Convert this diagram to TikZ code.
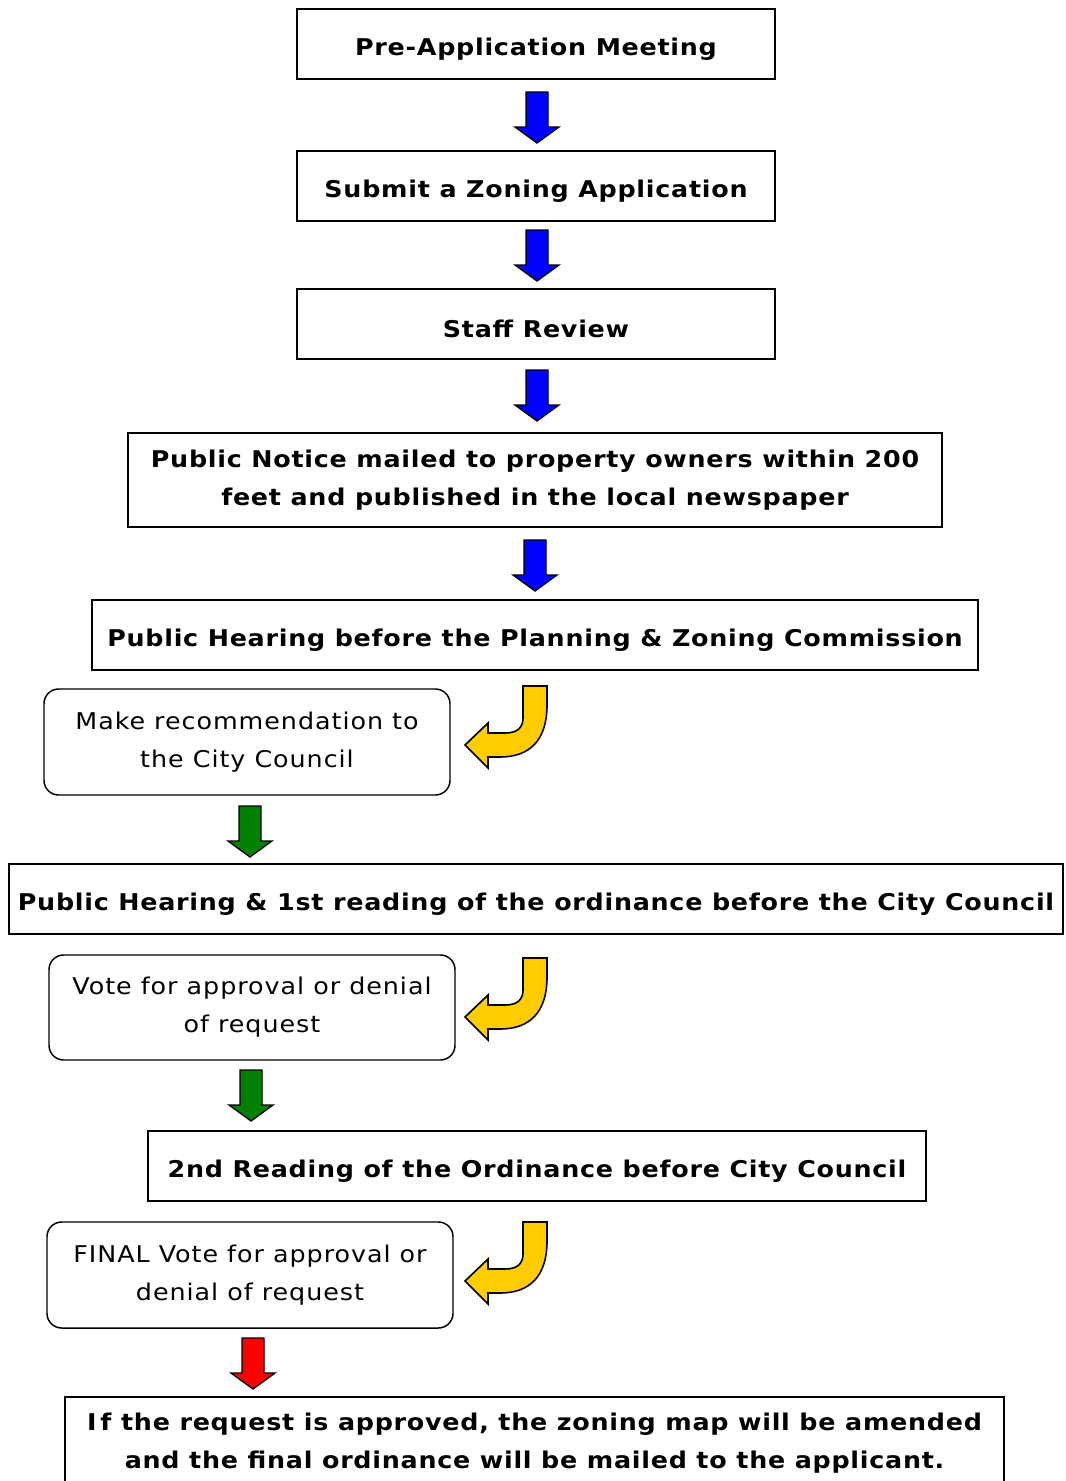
\documentclass[tikz,border=0pt]{standalone}
\usepackage{fontspec}
\setmainfont{DejaVu Sans}[LetterSpace=4.2, FakeStretch=1.1, BoldFeatures={LetterSpace=3.2, FakeStretch=1.1}]
\definecolor{arrblue}{RGB}{0,0,255}
\definecolor{arrgreen}{RGB}{0,128,0}
\definecolor{arrred}{RGB}{255,0,0}
\definecolor{arryellow}{RGB}{255,204,0}
\newcommand{\lowtxt}[1]{\raisebox{-3.75pt}[\height][\depth]{#1}}
\tikzset{
  sqbox/.style={draw=black, line width=1.1pt, rectangle, align=center, inner sep=0pt,
    font=\fontsize{17.3}{28.5}\selectfont\bfseries},
  rndbox/.style={draw=black, line width=1.1pt, rectangle, rounded corners=11pt, align=center, inner sep=0pt,
    font=\fontsize{17.3}{28.5}\selectfont},
  pics/blkdown/.style={code={
    \filldraw[fill=#1, draw=black, line width=1pt, line join=miter]
      (-11,0) -- (11,0) -- (11,35) -- (22,35) -- (0,51) -- (-22,35) -- (-11,35) -- cycle;}},
  pics/bentarr/.style={code={
    \filldraw[fill=arryellow, draw=black, line width=1.2pt, line join=miter]
      (0,0) -- (24,0) -- (24,19) .. controls (24,54) and (7,71) .. (-23,71) -- (-35,71)
      -- (-35,82) -- (-58,59) -- (-35,37) -- (-35,47) -- (-18,47)
      .. controls (-5,47) and (0,41) .. (0,32) -- cycle;}}
}
\begin{document}
\begin{tikzpicture}[x=0.75pt,y=-0.75pt]
\useasboundingbox (0,0) rectangle (1066,1481);
\clip (0,0) rectangle (1066,1481);
\fill[white] (0,0) rectangle (1066,1481);

\node[sqbox, minimum width=478*0.75pt, minimum height=70*0.75pt] (b1) at (536,44) {\lowtxt{Pre-Application Meeting}};
\node[sqbox, minimum width=478*0.75pt, minimum height=70*0.75pt] (b2) at (536,186) {\lowtxt{Submit a Zoning Application}};
\node[sqbox, minimum width=478*0.75pt, minimum height=70*0.75pt] (b3) at (536,324) {\lowtxt{Staff Review}};
\node[sqbox, minimum width=814*0.75pt, minimum height=94*0.75pt] (b4) at (535,480) {Public Notice mailed to property owners within 200\\feet and published in the local newspaper};
\node[sqbox, minimum width=886*0.75pt, minimum height=70*0.75pt] (b5) at (535,635) {\lowtxt{Public Hearing before the Planning \& Zoning Commission}};
\node[rndbox, minimum width=406*0.75pt, minimum height=106*0.75pt] (b6) at (247,742) {Make recommendation to\\the City Council};
\node[sqbox, minimum width=1054*0.75pt, minimum height=70*0.75pt] (b7) at (536,899) {\lowtxt{Public Hearing \& 1st reading of the ordinance before the City Council}};
\node[rndbox, minimum width=406*0.75pt, minimum height=105*0.75pt] (b8) at (252,1007.5) {Vote for approval or denial\\of request};
\node[sqbox, minimum width=778*0.75pt, minimum height=70*0.75pt] (b9) at (537,1166) {\lowtxt{2nd Reading of the Ordinance before City Council}};
\node[rndbox, minimum width=406*0.75pt, minimum height=106*0.75pt] (b10) at (250,1275) {FINAL Vote for approval or\\denial of request};
\node[sqbox, minimum width=939*0.75pt, minimum height=110*0.75pt] (b11) at (534.5,1452) {};
\node[font=\fontsize{17.3}{28.5}\selectfont\bfseries, align=center, inner sep=0pt] (t11) at (534.5,1443) {I\kern3pt f the request is approved, the zoning map will be amended\\and the final ordinance will be mailed to the applicant.};

\pic at (537,92) {blkdown=arrblue};
\pic at (537,230) {blkdown=arrblue};
\pic at (537,370) {blkdown=arrblue};
\pic at (535,540) {blkdown=arrblue};
\pic at (250,806) {blkdown=arrgreen};
\pic at (251,1070) {blkdown=arrgreen};
\pic at (253,1338) {blkdown=arrred};

\pic at (523,686) {bentarr};
\pic at (523,958) {bentarr};
\pic at (523,1222) {bentarr};
\end{tikzpicture}
\end{document}
